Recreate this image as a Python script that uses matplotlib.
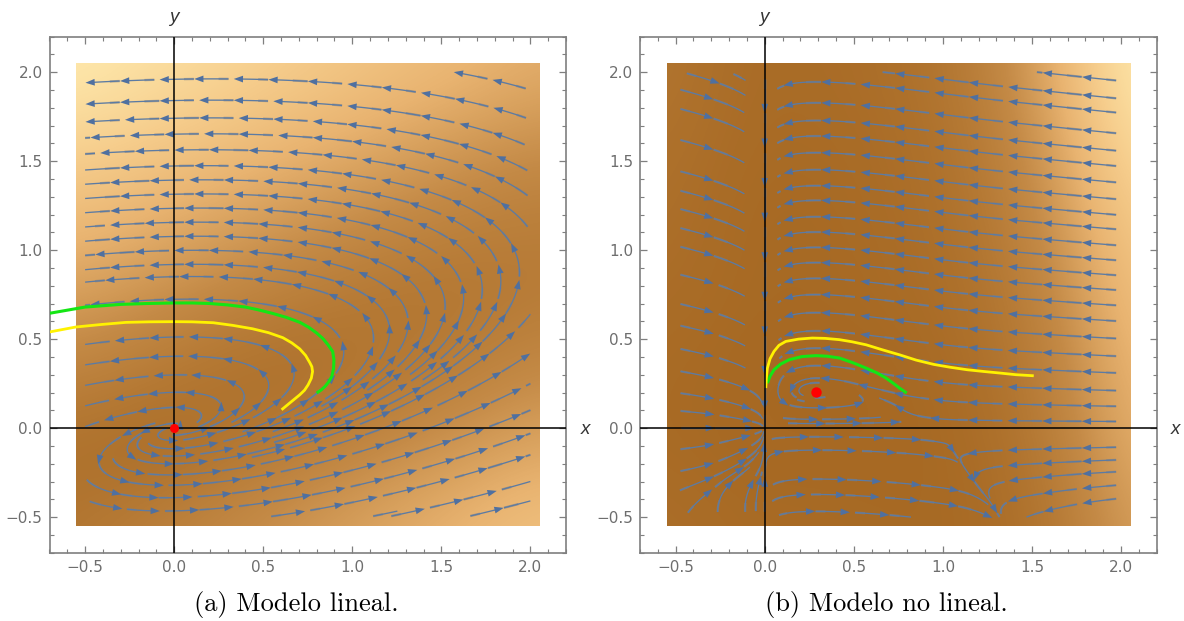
import numpy as np
import matplotlib
matplotlib.use('Agg')
import matplotlib.pyplot as plt
from matplotlib.collections import LineCollection, PolyCollection
from matplotlib.colors import LinearSegmentedColormap
from matplotlib.patches import Rectangle
from matplotlib.ticker import MultipleLocator

W, H = 1184, 621

# background brightness, rows from y=-0.55 up to y=2.05
BG_NODES = [-0.55, -0.117, 0.317, 0.75, 1.183, 1.617, 2.05]
bg_left = [
    [.13, .22, .30, .39, .48, .57, .66],
    [.07, .03, .12, .21, .30, .39, .48],
    [.25, .16, .08, .06, .13, .21, .30],
    [.43, .35, .27, .19, .13, .12, .17],
    [.62, .53, .45, .37, .30, .23, .19],
    [.81, .73, .64, .56, .48, .40, .34],
    [1.0, .91, .83, .74, .66, .59, .51],
]
bg_right = [
    [.06, .03, .03, .02, .02, .12, .42],
    [.03, .01, .01, .01, .03, .17, .52],
    [.03, .01, .01, .01, .05, .22, .58],
    [.05, .02, .02, .03, .08, .27, .65],
    [.07, .02, .02, .04, .11, .34, .75],
    [.09, .03, .03, .05, .14, .42, .88],
    [.12, .04, .04, .07, .18, .50, 1.0],
]

# flow direction estimated from the stream lines, rows from y=-0.5 upwards
left_x = [-0.5, 0.0, 0.5, 1.0, 1.5, 2.0]
left_u = [
    [.275, .5, .725, .95, 1.175, 1.4],
    [-.225, 0, .225, .45, .675, .9],
    [-.725, -.5, -.275, -.05, .175, .4],
    [-1.225, -1, -.775, -.55, -.325, -.1],
    [-1.725, -1.5, -1.275, -1.05, -.825, -.6],
    [-2.225, -2, -1.775, -1.55, -1.325, -1.1],
]
left_v = [
    [-.075, .01, .095, .18, .265, .35],
    [-.085, 0, .085, .17, .255, .34],
    [-.095, -.01, .075, .16, .245, .33],
    [-.105, -.02, .065, .15, .235, .32],
    [-.115, -.03, .055, .14, .225, .31],
    [-.125, -.04, .045, .13, .215, .30],
]
right_x = [-0.5, -0.25, 0.0, 0.25, 0.5, 0.75, 1.0, 1.25, 1.5, 1.75, 2.0]
right_u = [
    [.05, -.012, 0, .178, .34, .45, .47, .188, -.3, -.49, -.9],
    [.175, .05, 0, .115, .215, .263, .22, -.125, -.675, -.928, -1.4],
    [.1, .025, 0, .053, .09, .075, -.03, -.438, -1.05, -1.365, -1.9],
    [.225, .088, 0, -.01, -.035, -.113, -.28, -.75, -1.425, -1.8, -2.4],
    [.35, .15, 0, -.073, -.16, -.3, -.53, -1.063, -1.8, -2.24, -2.9],
    [.475, .213, 0, -.135, -.285, -.488, -.78, -1.375, -2.175, -2.68, -3.4],
    [.6, .275, 0, -.198, -.41, -.675, -1.03, -1.688, -2.55, -3.115, -3.9],
    [.725, .338, 0, -.26, -.535, -.863, -1.28, -2.0, -2.925, -3.55, -4.4],
    [.85, .4, 0, -.323, -.66, -1.05, -1.53, -2.313, -3.3, -3.99, -4.9],
    [.975, .463, 0, -.385, -.785, -1.238, -1.78, -2.625, -3.675, -4.43, -5.4],
    [1.1, .525, 0, -.448, -.91, -1.425, -2.03, -2.938, -4.05, -4.865, -5.9],
]
right_v = [
    [.071, .048, .026, .004, -.019, -.041, -.064, -.086, -.109, -.131, -.153],
    [.035, .024, .013, .002, -.009, -.021, -.032, -.043, -.054, -.065, -.077],
    [0, 0, 0, 0, 0, 0, 0, 0, 0, 0, 0],
    [-.035, -.024, -.013, -.002, .009, .021, .032, .043, .054, .065, .077],
    [-.071, -.048, -.026, -.004, .019, .041, .064, .086, .109, .131, .153],
    [-.106, -.073, -.039, -.005, .028, .062, .095, .129, .163, .196, .23],
    [-.141, -.097, -.052, -.007, .038, .082, .127, .172, .217, .261, .306],
    [-.176, -.121, -.065, -.009, .047, .103, .159, .215, .271, .326, .383],
    [-.212, -.145, -.078, -.011, .056, .124, .191, .258, .326, .392, .459],
    [-.247, -.169, -.091, -.013, .066, .144, .222, .301, .38, .457, .536],
    [-.282, -.193, -.104, -.014, .075, .165, .254, .344, .434, .522, .612],
]

# points the stream lines go through
left_rows = [1.94, 1.82, 1.72, 1.63, 1.54, 1.45, 1.37, 1.29, 1.21, 1.13, 1.05, .97,
             .89, .82, .69, .47, .355, .24, .125, .008]
left_extra = [(2.0, 1.90), (2.0, .64), (2.0, .42), (2.0, .25), (1.95, .08), (2.0, -.03), (2.0, -.15),
              (2.0, -.3), (1.09, -.5), (1.636, -.5), (1.45, .2), (1.2, .1),
              (.8, .02), (-.5, -.385), (-.42, -.14), (-.28, -.1)]
right_edge = [1.95, 1.85, 1.77, 1.654, 1.556, 1.47, 1.378, 1.284, 1.196, 1.115, 1.025, .941,
              .857, .774, .688, .60, .502, .403, .309, .21, .122, .037,
              -.107, -.178, -.244, -.319, -.394]
left_edge = [1.908, 1.80, 1.625, 1.449, 1.34, 1.237, 1.13, 1.025, .868, .703, .581, .45,
             .324, .2, .099, 0.0, -.122, -.247, -.36]
right_extra = [(-.464, 2.0), (-.2, 2.0), (-.07, 2.0), (-.445, -.497), (-.262, -.497),
               (-.107, -.497), (-.05, -.44), (-.043, -.31), (.02, -.07), (.06, -.14),
               (.03, -.33), (.06, -.40), (.06, -.497)]
# short arcs round the equilibrium of the second panel: start x, start y, length
right_arcs = [(.362, .25, .17), (.25, .174, .13), (.16, .17, .06), (.06, .065, .30), (.08, .03, .33)]

# the two highlighted trajectories
left_green_x = [.80, .825, .847, .868, .885, .895, .897, .89, .864, .835, .80, .756, .706, .63, .55, .47, .40,
                .30, .20, .10, 0, -.15, -.3, -.5, -.7]
left_green_y = [.197, .214, .234, .26, .29, .335, .384, .43, .468, .503, .534, .566, .594, .622, .645, .665, .68,
                .692, .70, .703, .703, .70, .695, .68, .645]
left_yellow_x = [.603, .655, .705, .732, .752, .77, .777, .773, .762, .738, .705, .66, .61, .53, .44, .33, .22,
                 .1, 0, -.14, -.27, -.41, -.552, -.70]
left_yellow_y = [.103, .146, .187, .213, .243, .28, .318, .345, .367, .408, .445, .479, .508, .536, .558, .577, .592,
                 .597, .598, .597, .594, .582, .568, .54]
right_green_x = [.797, .756, .72, .681, .63, .569, .49, .418, .35, .287, .21, .137, .09, .052, .03, .015]
right_green_y = [.197, .225, .253, .281, .31, .337, .369, .394, .404, .407, .402, .384, .36, .328, .292, .253]
right_yellow_x = [1.51, 1.41, 1.323, 1.23, 1.135, 1.04, .948, .85, .756, .66, .569, .49, .418, .34, .267, .19, .118,
                  .08, .052, .03, .015, .009, .006]
right_yellow_y = [.294, .30, .309, .318, .328, .342, .358, .382, .412, .44, .468, .485, .497, .504, .506, .50, .487,
                  .465, .431, .39, .337, .28, .225]

equilibria = [(0.0, 0.0), (0.29, 0.205)]
dot_sizes = [6.5, 7.5]
captions = ["(a) Modelo lineal.", "(b) Modelo no lineal."]

GRAY = '#7f7f7f'
cmap = LinearSegmentedColormap.from_list('sand', [
    (0, (166/255, 104/255, 34/255)), (.3, (196/255, 138/255, 70/255)),
    (.55, (233/255, 180/255, 113/255)), (.75, (246/255, 205/255, 140/255)),
    (1, (255/255, 235/255, 175/255))])


def trace_lines(ax, x, u, v, starts, maxlength=6, direction='both'):
    stream = ax.streamplot(x, x, np.array(u), np.array(v), start_points=starts, density=3,
                           arrowstyle='-', arrowsize=0.1, minlength=0.03, maxlength=maxlength,
                           integration_direction=direction)
    lines = [np.array(s) for s in stream.lines.get_segments()]
    stream.lines.remove()
    for p in list(ax.patches):
        p.remove()
    return lines


def cut_near_axis(lines):
    # the reference stops its lines short of the y axis where they crowd together
    out = []
    for pts in lines:
        if np.abs(pts[:, 0]).max() < 0.01:
            out.append(pts)
            continue
        bad = (pts[:, 1] > 0.25) & (pts[:, 0] > -0.1) & (pts[:, 0] < 0.07)
        if bad.any():
            pts = pts[:np.argmax(bad)]
        if len(pts) > 1:
            out.append(pts)
    return out


def draw_stream(ax, lines, step=0.21):
    thin, thick, heads = [], [], []
    for pts in lines:
        d = np.r_[0, np.cumsum(np.hypot(*np.diff(pts, axis=0).T))]
        for s0 in np.arange(0, d[-1], step):
            s1 = min(s0 + step, d[-1])
            keep = (d >= s0 + 0.012) & (d <= s1)
            if keep.sum() < 2:
                continue
            piece = pts[keep]
            thin.append(piece)
            tail = piece[d[keep] <= s0 + 0.1]
            if len(tail) > 1:
                thick.append(tail)
            if s0 + step <= d[-1]:
                t = piece[-1] - piece[-2]
                t = t / np.hypot(*t)
                n = np.array([-t[1], t[0]])
                c = piece[-1]
                heads.append([c + t * .026, c - t * .026 + n * .019, c - t * .026 - n * .019])
    ax.add_collection(LineCollection(thick, colors=[(.5, .5, .52, .6)], linewidths=1.7, zorder=2))
    ax.add_collection(LineCollection(thin, colors='#5c7ba3', linewidths=0.95, zorder=2.1))
    ax.add_collection(PolyCollection(heads, facecolors='#4f70a0', edgecolors='none', zorder=2.2))


def panel(rect, bg, x, u, v, starts, arcs, green, yellow, eq, dot, caption, cap_x):
    x0, x1, y0, y1 = rect
    ax = fig.add_axes([x0 / W, 1 - y1 / H, (x1 - x0) / W, (y1 - y0) / H])
    lines = trace_lines(ax, x, u, v, starts)
    if arcs:
        lines = cut_near_axis(lines)
        for ax_x, ax_y, length in arcs:
            lines += trace_lines(ax, x, u, v, [(ax_x, ax_y)], maxlength=length, direction='forward')

    dx = BG_NODES[1] - BG_NODES[0]
    im = ax.imshow(bg, origin='lower', cmap=cmap, vmin=0, vmax=1, interpolation='bicubic',
                   aspect='auto', extent=(BG_NODES[0] - dx / 2, BG_NODES[-1] + dx / 2,
                                          BG_NODES[0] - dx / 2, BG_NODES[-1] + dx / 2), zorder=1)
    im.set_clip_path(Rectangle((-0.55, -0.55), 2.6, 2.6, transform=ax.transData))

    draw_stream(ax, lines)
    ax.plot(*green, color='#14e614', lw=2.2, zorder=3, solid_capstyle='butt')
    ax.plot(*yellow, color='#fff200', lw=2.0, zorder=3.1, solid_capstyle='butt')
    ax.axhline(0, color='black', lw=1.1, zorder=4)
    ax.axvline(0, color='black', lw=1.1, zorder=4)
    ax.plot(*eq, 'o', color='#ff0000', ms=dot, mew=0, zorder=5)

    ax.set_xlim(-0.7, 2.2)
    ax.set_ylim(-0.7, 2.2)
    for axis in (ax.xaxis, ax.yaxis):
        axis.set_major_locator(MultipleLocator(0.5))
        axis.set_minor_locator(MultipleLocator(0.1))
        axis.set_major_formatter(lambda val, pos: f'{val:.1f}'.replace('-', '\u2212'))
    ax.tick_params(which='major', direction='in', length=5, width=0.9, color=GRAY,
                   top=True, right=True, labelsize=11, labelcolor='#6e6e6e', pad=5)
    ax.tick_params(which='minor', direction='in', length=2.8, width=0.8, color=GRAY,
                   top=True, right=True)
    for sp in ax.spines.values():
        sp.set_color(GRAY)
        sp.set_linewidth(1.2)

    fig.text((x0 + 124) / W, 1 - 17 / H, 'y', style='italic', fontsize=13.5, color='#333333',
             ha='center', va='center', family='Liberation Sans')
    fig.text((x1 + 19) / W, 1 - 429 / H, 'x', style='italic', fontsize=13.5, color='#333333',
             ha='center', va='center', family='Liberation Sans')
    fig.text(cap_x / W, 1 - 605 / H, caption, fontsize=19, color='black', ha='center', va='center',
             family='cmr10')


fig = plt.figure(figsize=(W / 100, H / 100), dpi=100)

left_starts = [(-0.5, y) for y in left_rows] + left_extra
right_starts = [(0.0, 1.99)] + [(2.0, y) for y in right_edge] + [(-0.5, y) for y in left_edge] + right_extra

panel((49.5, 566, 36.5, 552.7), bg_left, left_x, left_u, left_v, left_starts, None,
      (left_green_x, left_green_y), (left_yellow_x, left_yellow_y), equilibria[0], dot_sizes[0], captions[0], 296)
panel((640, 1156.7, 36.5, 552.7), bg_right, right_x, right_u, right_v, right_starts, right_arcs,
      (right_green_x, right_green_y), (right_yellow_x, right_yellow_y), equilibria[1], dot_sizes[1], captions[1], 886)

fig.savefig('out.png', dpi=100)
